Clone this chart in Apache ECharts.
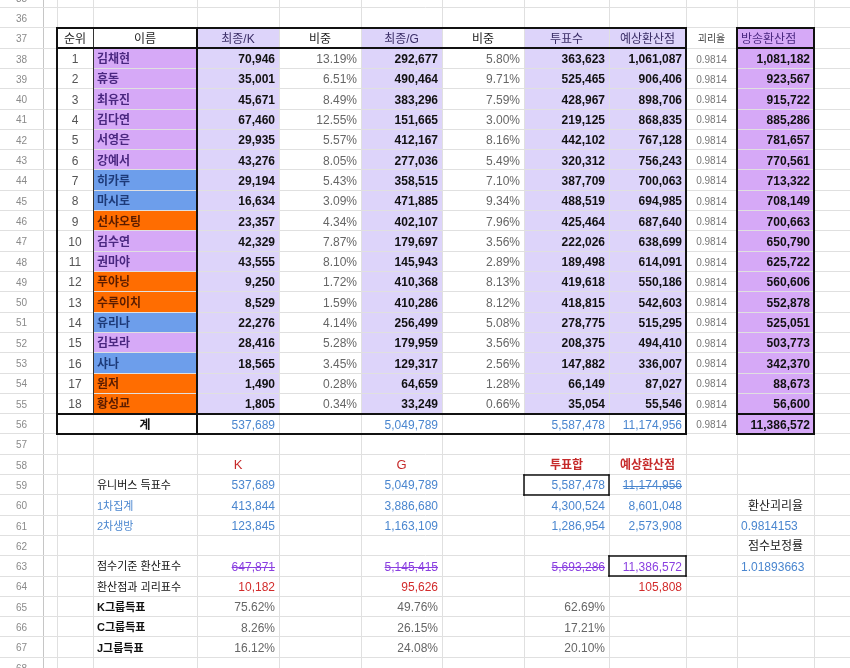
<!DOCTYPE html>
<html>
<head>
<meta charset="utf-8">
<script src="https://cdn.jsdelivr.net/npm/echarts@6.0.0/dist/echarts.min.js"></script>
<style>
  html, body { margin: 0; padding: 0; background: #fff; }
  #sheet { width: 850px; height: 668px; }
</style>
</head>
<body>
<div id="sheet"></div>
<script>
// ---- data ----
const headers = ['순위', '이름', '최종/K', '비중', '최종/G', '비중', '투표수', '예상환산점', '괴리율', '방송환산점'];
const names = ['김채현', '휴동', '최유진', '김다연', '서영은', '강예서', '히카루', '마시로', '선샤오팅',
  '김수연', '권마야', '푸야닝', '수루이치', '유리나', '김보라', '샤나', '원저', '황성교'];
const nameGroup = ['p', 'p', 'p', 'p', 'p', 'p', 'b', 'b', 'o', 'p', 'p', 'o', 'o', 'b', 'p', 'b', 'o', 'o'];
const finalK = [70946, 35001, 45671, 67460, 29935, 43276, 29194, 16634, 23357, 42329, 43555, 9250, 8529, 22276, 28416, 18565, 1490, 1805];
const shareK = [13.19, 6.51, 8.49, 12.55, 5.57, 8.05, 5.43, 3.09, 4.34, 7.87, 8.10, 1.72, 1.59, 4.14, 5.28, 3.45, 0.28, 0.34];
const finalG = [292677, 490464, 383296, 151665, 412167, 277036, 358515, 471885, 402107, 179697, 145943, 410368, 410286, 256499, 179959, 129317, 64659, 33249];
const shareG = [5.80, 9.71, 7.59, 3.00, 8.16, 5.49, 7.10, 9.34, 7.96, 3.56, 2.89, 8.13, 8.12, 5.08, 3.56, 2.56, 1.28, 0.66];
const votes = [363623, 525465, 428967, 219125, 442102, 320312, 387709, 488519, 425464, 222026, 189498, 419618, 418815, 278775, 208375, 147882, 66149, 35054];
const expected = [1061087, 906406, 898706, 868835, 767128, 756243, 700063, 694985, 687640, 638699, 614091, 550186, 542603, 515295, 494410, 336007, 87027, 55546];
const gapRate = '0.9814';
const broadcast = [1081182, 923567, 915722, 885286, 781657, 770561, 713322, 708149, 700663, 650790, 625722, 560606, 552878, 525051, 503773, 342370, 88673, 56600];
const totals = [537689, 5049789, 5587478, 11174956, 11386572];

const sumHeads = ['K', 'G', '투표합', '예상환산점'];
const sumLabels = ['유니버스 득표수', '1차집계', '2차생방'];
const sumK = [537689, 413844, 123845];
const sumG = [5049789, 3886680, 1163109];
const sumVotes = [5587478, 4300524, 1286954];
const sumExpected = [11174956, 8601048, 2573908];
const scoreBasis = [647871, 5145415, 5693286, 11386572];
const gapVotes = [10182, 95626, null, 105808];
const groupLabels = ['K그룹득표', 'C그룹득표', 'J그룹득표'];
const groupK = [75.62, 8.26, 16.12];
const groupG = [49.76, 26.15, 24.08];
const groupVotes = [62.69, 17.21, 20.10];
const sideLabels = ['환산괴리율', '점수보정률'];
const sideValues = ['0.9814153', '1.01893663'];

// ---- layout ----
const colEdges = [0, 43, 57, 93, 197, 279, 361, 442, 524, 609, 686, 737, 814, 900];
const firstRow = 35, lastRow = 68;

const LAV = '#ddd4fa', PUR = '#d6a9f7';
const groupFill = { p: '#d6a9f7', b: '#6d9eeb', o: '#ff6d01' };
const groupInk = { p: '#4a2780', b: '#1d3a78', o: '#5a1c00' };
const LAT = '"Liberation Sans", Arial, "Noto Sans CJK KR", sans-serif';
const BLUE = '#4a86cf', RED = '#d22b2b', VIO = '#8a3fe0', GRAY = '#666';

const fmt = v => v.toLocaleString('en-US');
const pct = v => v.toFixed(2) + '%';

// fills
const fills = [];
[4, 6, 8, 9].forEach(c => fills.push({ col: c, row: 37, fill: LAV }));
fills.push({ col: 11, row: 37, fill: PUR });
names.forEach((n, i) => {
  const r = 38 + i;
  fills.push({ col: 3, row: r, fill: groupFill[nameGroup[i]] });
  [4, 6, 8, 9].forEach(c => fills.push({ col: c, row: r, fill: LAV }));
  fills.push({ col: 11, row: r, fill: PUR });
});
fills.push({ col: 11, row: 56, fill: PUR });

// texts
const texts = [];
function T(col, row, text, o) { texts.push(Object.assign({ col, row, text, align: 'right', color: '#111', size: 12, weight: 'normal', font: LAT }, o || {})); }

for (let r = firstRow; r <= lastRow; r++) T(0, r, String(r), { align: 'center', color: '#8a8a8a', size: 10 });

headers.forEach((h, i) => {
  const col = i + 2;
  const o = { align: 'center', color: '#222' };
  if (col === 4 || col === 6 || col === 8 || col === 9) o.color = '#3a2d66';
  if (col === 10) { o.size = 10; o.color = '#444'; }
  if (col === 11) { o.align = 'left'; o.color = '#4a2780'; }
  T(col, 37, h, o);
});

names.forEach((n, i) => {
  const r = 38 + i;
  T(2, r, String(i + 1), { align: 'center', color: '#555' });
  T(3, r, n, { align: 'left', weight: 'bold', color: groupInk[nameGroup[i]] });
  T(4, r, fmt(finalK[i]), { weight: 'bold' });
  T(5, r, pct(shareK[i]), { color: GRAY });
  T(6, r, fmt(finalG[i]), { weight: 'bold' });
  T(7, r, pct(shareG[i]), { color: GRAY });
  T(8, r, fmt(votes[i]), { weight: 'bold' });
  T(9, r, fmt(expected[i]), { weight: 'bold' });
  T(10, r, gapRate, { align: 'center', color: '#777', size: 10 });
  T(11, r, fmt(broadcast[i]), { weight: 'bold' });
});

T(3, 56, '계', { align: 'center', weight: 'bold' });
[4, 6, 8, 9].forEach((c, k) => T(c, 56, fmt(totals[k]), { color: BLUE }));
T(10, 56, gapRate, { align: 'center', color: '#777', size: 10 });
T(11, 56, fmt(totals[4]), { weight: 'bold' });

[4, 6, 8, 9].forEach((c, k) => T(c, 58, sumHeads[k], { align: 'center', color: '#c62a2a', size: k < 2 ? 13 : 12, weight: k < 2 ? 'normal' : 'bold' }));
sumLabels.forEach((l, i) => {
  const r = 59 + i;
  T(3, r, l, { align: 'left', size: 11, color: i === 0 ? '#111' : BLUE });
  T(4, r, fmt(sumK[i]), { color: BLUE });
  T(6, r, fmt(sumG[i]), { color: BLUE });
  T(8, r, fmt(sumVotes[i]), { color: BLUE });
  T(9, r, fmt(sumExpected[i]), { color: BLUE, strike: i === 0 });
});
T(11, 60, sideLabels[0], { align: 'center', color: '#222' });
T(11, 61, sideValues[0], { align: 'left', color: BLUE });
T(11, 62, sideLabels[1], { align: 'center', color: '#222' });
T(11, 63, sideValues[1], { align: 'left', color: BLUE });

T(3, 63, '점수기준 환산표수', { align: 'left', size: 11 });
[4, 6, 8, 9].forEach((c, k) => T(c, 63, fmt(scoreBasis[k]), { color: VIO, strike: k < 3 }));
T(3, 64, '환산점과 괴리표수', { align: 'left', size: 11 });
[4, 6, 8, 9].forEach((c, k) => { if (gapVotes[k] != null) T(c, 64, fmt(gapVotes[k]), { color: RED }); });
groupLabels.forEach((l, i) => {
  const r = 65 + i;
  T(3, r, l, { align: 'left', weight: 'bold', size: 11 });
  T(4, r, pct(groupK[i]), { color: GRAY });
  T(6, r, pct(groupG[i]), { color: GRAY });
  T(8, r, pct(groupVotes[i]), { color: GRAY });
});

// grid lines
const gridLines = [];
for (let c = 1; c < colEdges.length - 1; c++)
  gridLines.push({ a: [colEdges[c], firstRow - 1], b: [colEdges[c], lastRow + 1], color: c === 1 ? '#c6c6c6' : '#e0e0e0' });
for (let r = firstRow - 0.5; r <= lastRow + 0.5; r++)
  gridLines.push({ a: [0, r], b: [900, r], color: '#e0e0e0' });

// borders
const borders = [];
function B(x1, r1, x2, r2, w, color) { borders.push({ a: [x1, r1], b: [x2, r2], w: w, color: color || '#111' }); }
function box(x1, r1, x2, r2, w, color) { B(x1, r1, x2, r1, w, color); B(x1, r2, x2, r2, w, color); B(x1, r1, x1, r2, w, color); B(x2, r1, x2, r2, w, color); }
B(93, 36.5, 93, 55.5, 1, '#333');
box(57, 36.5, 686, 56.5, 2);
B(57, 37.5, 686, 37.5, 2);
B(57, 55.5, 686, 55.5, 2);
B(197, 36.5, 197, 56.5, 2);
box(737, 36.5, 814, 56.5, 2);
B(737, 37.5, 814, 37.5, 2);
B(737, 55.5, 814, 55.5, 2);
box(524, 58.5, 609, 59.5, 1.5);
box(609, 62.5, 686, 63.5, 1.5);

// ---- rendering ----
const measureCtx = document.createElement('canvas').getContext('2d');
function cellRect(api, col, row) {
  const p0 = api.coord([colEdges[col], row - 0.5]);
  const p1 = api.coord([colEdges[col + 1], row + 0.5]);
  return { x: p0[0], y: p0[1], w: p1[0] - p0[0], h: p1[1] - p0[1] };
}
function crisp(v, w) { return (Math.round(w) % 2 === 1) ? Math.round(v - 0.5) + 0.5 : Math.round(v); }

const chart = echarts.init(document.getElementById('sheet'), null, { renderer: 'canvas' });
chart.setOption({
  animation: false,
  grid: { left: 0, right: 0, top: 0, bottom: 0 },
  xAxis: { type: 'value', min: 0, max: 850, show: false },
  yAxis: { type: 'value', min: 35.128, max: 68.03, inverse: true, show: false },
  series: [
    {
      type: 'custom', z: 1, silent: true,
      data: fills.map(f => [f.col, f.row]),
      renderItem: (params, api) => {
        const f = fills[params.dataIndex];
        const r = cellRect(api, f.col, f.row);
        return { type: 'rect', shape: { x: Math.round(r.x), y: Math.round(r.y), width: Math.round(r.x + r.w) - Math.round(r.x), height: Math.round(r.y + r.h) - Math.round(r.y) }, style: { fill: f.fill } };
      }
    },
    {
      type: 'custom', z: 2, silent: true,
      data: gridLines.map((g, i) => [i, 0]),
      renderItem: (params, api) => {
        const g = gridLines[params.dataIndex];
        const a = api.coord(g.a), b = api.coord(g.b);
        const vertical = g.a[0] === g.b[0];
        const x1 = vertical ? crisp(a[0], 1) : a[0], x2 = vertical ? crisp(b[0], 1) : b[0];
        const y1 = vertical ? a[1] : crisp(a[1], 1), y2 = vertical ? b[1] : crisp(b[1], 1);
        return { type: 'line', shape: { x1, y1, x2, y2 }, style: { stroke: g.color, lineWidth: 1 } };
      }
    },
    {
      type: 'custom', z: 3, silent: true,
      data: borders.map((g, i) => [i, 0]),
      renderItem: (params, api) => {
        const g = borders[params.dataIndex];
        const a = api.coord(g.a), b = api.coord(g.b);
        const vertical = g.a[0] === g.b[0];
        const half = g.w / 2;
        let x1, y1, x2, y2;
        if (vertical) { x1 = x2 = crisp(a[0], g.w); y1 = Math.round(a[1]) - half; y2 = Math.round(b[1]) + half; }
        else { y1 = y2 = crisp(a[1], g.w); x1 = Math.round(a[0]) - half; x2 = Math.round(b[0]) + half; }
        return { type: 'line', shape: { x1, y1, x2, y2 }, style: { stroke: g.color, lineWidth: g.w } };
      }
    },
    {
      type: 'custom', z: 4, silent: true,
      data: texts.map(t => [t.col, t.row]),
      renderItem: (params, api) => {
        const t = texts[params.dataIndex];
        const r = cellRect(api, t.col, t.row);
        let x = r.x + r.w / 2;
        if (t.align === 'left') x = r.x + 4;
        if (t.align === 'right') x = r.x + r.w - 4;
        const y = r.y + r.h / 2 + 1.5;
        const children = [{
          type: 'text',
          style: { text: t.text, x, y, fill: t.color, fontSize: t.size, fontFamily: t.font, fontWeight: t.weight, align: t.align, verticalAlign: 'middle' }
        }];
        if (t.strike) {
          measureCtx.font = t.weight + ' ' + t.size + 'px ' + t.font;
          const w = measureCtx.measureText(t.text).width;
          const x0 = t.align === 'right' ? x - w : (t.align === 'left' ? x : x - w / 2);
          const sy = Math.round(y) + 0.5;
          children.push({ type: 'line', shape: { x1: x0, y1: sy, x2: x0 + w, y2: sy }, style: { stroke: t.color, lineWidth: 1 } });
        }
        return { type: 'group', children };
      }
    }
  ]
});
</script>
</body>
</html>
